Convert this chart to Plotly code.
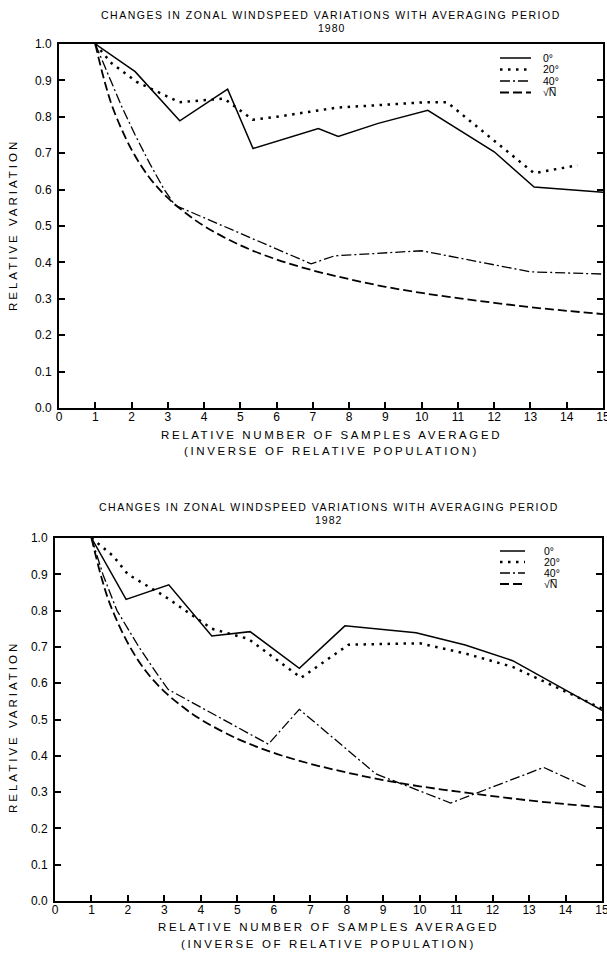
import plotly.graph_objects as go

W, H = 607, 962

# ---------------- data ----------------
# 1980
x0_80 = [1.0, 2.1, 3.33, 4.65, 5.35, 7.15, 7.7, 8.8, 10.17, 12.0, 13.1, 15.0]
y0_80 = [1.0, 0.924, 0.789, 0.876, 0.713, 0.768, 0.746, 0.782, 0.818, 0.704, 0.607, 0.593]
x20_80 = [1.0, 1.45, 2.14, 3.32, 4.55, 5.34, 6.0, 7.65, 10.1, 10.7, 13.1, 14.3]
y20_80 = [1.0, 0.947, 0.896, 0.840, 0.850, 0.792, 0.800, 0.825, 0.840, 0.840, 0.645, 0.667]
x40_80 = [1.0, 1.3, 1.73, 2.1, 2.5, 2.9, 3.2, 6.95, 7.6, 10.0, 13.0, 15.0]
y40_80 = [1.0, 0.93, 0.828, 0.75, 0.672, 0.60, 0.557, 0.396, 0.418, 0.432, 0.374, 0.368]
# 1982
x0_82 = [1.0, 1.95, 3.12, 4.3, 5.35, 6.7, 7.95, 9.9, 11.25, 12.55, 15.0]
y0_82 = [1.0, 0.831, 0.871, 0.730, 0.742, 0.641, 0.758, 0.739, 0.705, 0.662, 0.525]
x20_82 = [1.0, 1.6, 2.0, 3.0, 4.3, 5.3, 6.75, 8.05, 10.0, 11.25, 12.55, 15.0]
y20_82 = [1.0, 0.95, 0.90, 0.84, 0.75, 0.722, 0.615, 0.706, 0.71, 0.682, 0.645, 0.53]
x40_82 = [1.0, 1.32, 1.7, 2.3, 2.7, 3.1, 5.85, 6.7, 8.8, 10.85, 13.4, 14.55]
y40_82 = [1.0, 0.898, 0.80, 0.70, 0.64, 0.583, 0.432, 0.528, 0.35, 0.27, 0.368, 0.315]
# sqrt(N) reference curve (both years)
xN = [1, 1.25, 1.5, 2, 2.5, 3, 3.5, 4, 5, 6, 7, 8, 9, 10, 11, 12, 13, 14, 15]
yN = [1.0, 0.90, 0.82, 0.71, 0.632, 0.577, 0.535, 0.50, 0.447, 0.408, 0.378,
      0.354, 0.333, 0.316, 0.302, 0.289, 0.277, 0.267, 0.258]

legend_labels = ["0°", "20°", "40°", "√N̅"]
x_ticks = list(range(0, 16))
y_ticks = [0.0, 0.1, 0.2, 0.3, 0.4, 0.5, 0.6, 0.7, 0.8, 0.9, 1.0]
title_text = "CHANGES IN ZONAL WINDSPEED VARIATIONS WITH AVERAGING PERIOD"
years = ["1980", "1982"]
xtitle1 = "RELATIVE NUMBER OF SAMPLES AVERAGED"
xtitle2 = "(INVERSE OF RELATIVE POPULATION)"
ytitle = "RELATIVE VARIATION"

# ---------------- styles ----------------
FONT = "Liberation Sans, Arial, sans-serif"
styles = [
    dict(color="black", width=1.5, dash="solid"),
    dict(color="black", width=2.5, dash="2.5px,5.5px"),
    dict(color="black", width=1.3, dash="10px,3px,2px,3px"),
    dict(color="black", width=1.8, dash="9px,4px"),
]

def px(x):
    return x / W

def py(y):
    return 1 - y / H

def ls(text, sp):
    return f"<span style='letter-spacing:{sp}px'>{text}</span>"

fig = go.Figure()

series = [
    ("x", "y", [(x0_80, y0_80), (x20_80, y20_80), (x40_80, y40_80), (xN, yN)]),
    ("x2", "y2", [(x0_82, y0_82), (x20_82, y20_82), (x40_82, y40_82), (xN, yN)]),
]
for xa, ya, lines in series:
    for i, (xs, ys) in enumerate(lines):
        shape = "spline" if i == 3 else "linear"
        fig.add_trace(go.Scatter(x=xs, y=ys, mode="lines", xaxis=xa, yaxis=ya,
                                 line=dict(**styles[i], shape=shape),
                                 showlegend=False, hoverinfo="skip"))

# plot areas (pixels)
areas = [
    dict(l=59, r=603, t=44, b=408),
    dict(l=55, r=602, t=538, b=901),
]

axis_common = dict(showgrid=False, zeroline=False, showline=True, linecolor="black",
                   linewidth=2, ticks="inside", tickcolor="black", tickwidth=1.5,
                   automargin=False, ticklabeloverflow="allow",
                   tickfont=dict(family=FONT, size=12, color="black"))

layout = dict(width=W, height=H, margin=dict(l=0, r=0, t=0, b=0, pad=0, autoexpand=False),
              paper_bgcolor="white", plot_bgcolor="white", showlegend=False)

for k, a in enumerate(areas):
    sx = "" if k == 0 else "2"
    layout["xaxis" + sx] = dict(axis_common, domain=[px(a["l"]), px(a["r"])],
                                range=[0, 15], tickvals=x_ticks, ticklen=6,
                                mirror=True, anchor="y" + sx, ticklabelstandoff=-3)
    layout["yaxis" + sx] = dict(axis_common, domain=[py(a["b"]), py(a["t"])],
                                range=[0, 1.0], tickvals=y_ticks, tickformat=".1f",
                                ticklen=6, mirror="allticks", anchor="x" + sx,
                                ticklabelstandoff=3)

fig.update_layout(**layout)

ann = []
shapes = []
title_y = [(15, 28), (507, 520)]
xt_y = [(435, 451), (927, 944)]
yt_c = [225, 727]
leg_rows = [[58, 69.5, 81, 92.5], [551, 562, 573, 584]]
leg_x = [(500, 531, 541), (500, 525, 542)]

def note(x, y, text, size, **kw):
    d = dict(x=px(x), y=py(y), xref="paper", yref="paper", text=text,
             showarrow=False, xanchor="center", yanchor="middle",
             font=dict(family=FONT, size=size, color="black"))
    d.update(kw)
    return d

for k, a in enumerate(areas):
    cx = (a["l"] + a["r"]) / 2
    ann.append(note(cx, title_y[k][0], ls(title_text, 1.5), 10.5))
    ann.append(note(cx, title_y[k][1], ls(years[k], 1), 10.5))
    ann.append(note(cx, xt_y[k][0], ls(xtitle1, 2.6), 11.5))
    ann.append(note(cx, xt_y[k][1], ls(xtitle2, 2.6), 11.5))
    ann.append(note(13, yt_c[k], ls(ytitle, 3), 11.5, textangle=-90))
    x1, x2, xtxt = leg_x[k]
    for i, ry in enumerate(leg_rows[k]):
        st = styles[i]
        shapes.append(dict(type="line", xref="paper", yref="paper",
                           x0=px(x1), x1=px(x2), y0=py(ry), y1=py(ry),
                           line=dict(color="black", width=st["width"], dash=st["dash"])))
        ann.append(note(xtxt, ry, legend_labels[i], 10.5, xanchor="left"))

fig.update_layout(annotations=ann, shapes=shapes)
fig.write_html("out.html")
